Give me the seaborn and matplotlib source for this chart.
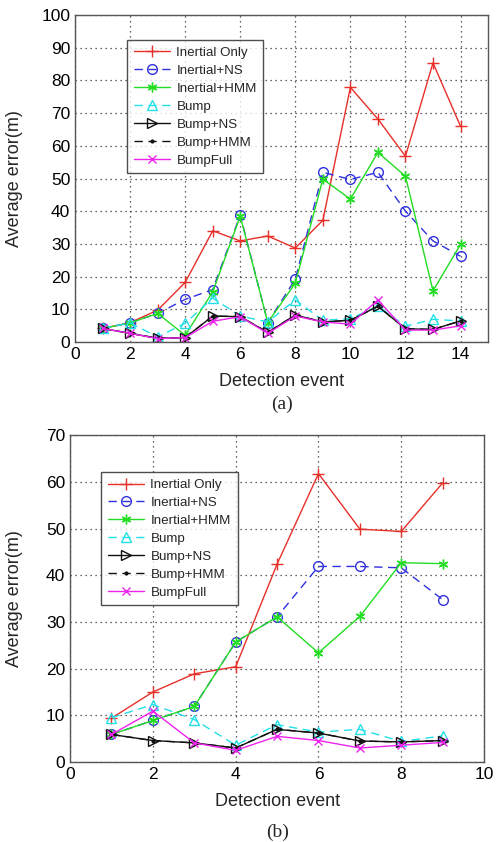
import numpy as np
import pandas as pd
import matplotlib
matplotlib.use("Agg")
import matplotlib.pyplot as plt
import seaborn as sns

# values
events_a = list(range(1, 15))
inertial_only_a = [4.1, 5.9, 9.7, 18.2, 34.0, 30.9, 32.4, 28.7, 37.2, 77.9, 68.2, 56.8, 85.4, 66.0]
inertial_ns_a = [4.1, 5.8, 8.7, 13.0, 16.0, 38.8, 5.9, 19.2, 51.9, 49.7, 51.9, 40.0, 30.9, 26.2]
inertial_hmm_a = [4.1, 5.8, 8.7, 2.0, 15.3, 38.5, 5.9, 18.0, 49.8, 43.7, 58.0, 50.7, 15.6, 29.8]
bump_a = [4.1, 5.8, 1.5, 5.7, 13.4, 7.9, 6.1, 12.8, 6.6, 7.1, 10.9, 4.8, 6.9, 6.4]
bump_ns_a = [4.1, 2.6, 1.1, 1.3, 7.9, 7.7, 2.9, 8.2, 6.1, 6.6, 10.9, 4.0, 3.8, 6.4]
bump_hmm_a = [4.1, 2.6, 1.1, 1.3, 7.9, 7.7, 2.9, 8.2, 6.1, 6.6, 10.9, 4.0, 3.8, 6.4]
bump_full_a = [4.1, 2.6, 1.0, 1.3, 6.3, 7.7, 2.6, 7.9, 6.1, 5.4, 12.8, 3.6, 3.6, 4.9]

events_b = list(range(1, 10))
inertial_only_b = [9.4, 15.0, 18.9, 20.4, 42.4, 61.8, 49.9, 49.4, 59.8]
inertial_ns_b = [5.9, 8.9, 11.9, 25.7, 31.1, 41.9, 41.9, 41.6, 34.8]
inertial_hmm_b = [5.9, 8.9, 11.9, 25.7, 31.1, 23.4, 31.2, 42.7, 42.5]
bump_b = [9.5, 12.3, 9.1, 3.6, 8.0, 6.4, 7.0, 4.4, 5.6]
bump_ns_b = [5.9, 4.6, 4.1, 3.0, 7.0, 6.2, 4.5, 4.3, 4.6]
bump_hmm_b = [5.9, 4.6, 4.1, 3.0, 7.0, 6.2, 4.5, 4.3, 4.6]
bump_full_b = [5.9, 10.9, 4.1, 2.5, 5.5, 4.6, 3.0, 3.6, 4.2]

labels = ["Inertial Only", "Inertial+NS", "Inertial+HMM", "Bump", "Bump+NS", "Bump+HMM", "BumpFull"]

sns.set_style("white")
plt.rcParams["font.family"] = ["Liberation Sans", "DejaVu Sans"]

asterisk = (6, 2, 0)
styles = [
    dict(color="#e8302a", linestyle="-", marker="+", mfc="none", ms=9),
    dict(color="#3030e0", linestyle=(0, (6, 4)), marker="o", mfc="none", ms=7),
    dict(color="#22dd22", linestyle="-", marker=asterisk, mfc="none", ms=7),
    dict(color="#22e0e8", linestyle=(0, (6, 4)), marker="^", mfc="none", ms=7),
    dict(color="#111111", linestyle="-", marker=">", mfc="none", ms=7),
    dict(color="#111111", linestyle=(0, (6, 4)), marker=".", mfc="#111111", ms=4),
    dict(color="#ee22ee", linestyle="-", marker="x", mfc="none", ms=6),
]


def draw_panel(ax, events, series, ymax, xmax, legend_pos, ylab_x, tag_y, tag):
    for name, vals, st in zip(labels, series, styles):
        df = pd.DataFrame({"event": events, "err": vals})
        sns.lineplot(data=df, x="event", y="err", ax=ax, label=name,
                     color=st["color"], linestyle=st["linestyle"], marker=st["marker"],
                     markerfacecolor=st["mfc"], markeredgecolor=st["color"],
                     markersize=st["ms"], markeredgewidth=1.0, linewidth=1.0)
    ax.set_xlim(0, xmax)
    ax.set_ylim(0, ymax)
    ax.set_xticks(range(0, xmax + 1, 2))
    ax.set_yticks(range(0, ymax + 1, 10))
    ax.grid(True, linestyle=(0, (1, 3)), color="#333333", linewidth=0.9)
    ax.tick_params(direction="in", length=4, labelsize=12.5, colors="#555555", labelcolor="black")
    for sp in ax.spines.values():
        sp.set_color("#555555")
        sp.set_linewidth(1.0)
    ax.set_xlabel("Detection event", fontsize=13)
    ax.set_ylabel("Average error(m)", fontsize=13)
    ax.xaxis.set_label_coords(0.5, -0.095)
    ax.yaxis.set_label_coords(ylab_x, 0.5)
    leg = ax.legend(loc="upper left", bbox_to_anchor=legend_pos, fontsize=9.6,
                    frameon=True, fancybox=False, edgecolor="#222222",
                    handlelength=2.7, borderpad=0.5, labelspacing=0.42, handletextpad=0.5,
                    borderaxespad=0.0)
    leg.get_frame().set_linewidth(1.0)
    ax.text(0.5, tag_y, tag, transform=ax.transAxes, ha="center", va="center",
            fontsize=14, family="Liberation Serif")


fig = plt.figure(figsize=(4.97, 8.42), dpi=100)
ax1 = fig.add_axes([0.151, 0.594, 0.831, 0.388])
ax2 = fig.add_axes([0.141, 0.095, 0.833, 0.388])

draw_panel(ax1, events_a,
           [inertial_only_a, inertial_ns_a, inertial_hmm_a, bump_a, bump_ns_a, bump_hmm_a, bump_full_a],
           100, 15, (0.126, 0.924), -0.126, -0.19, "(a)")
draw_panel(ax2, events_b,
           [inertial_only_b, inertial_ns_b, inertial_hmm_b, bump_b, bump_ns_b, bump_hmm_b, bump_full_b],
           70, 10, (0.075, 0.887), -0.114, -0.214, "(b)")

fig.savefig("out.png", dpi=100)
